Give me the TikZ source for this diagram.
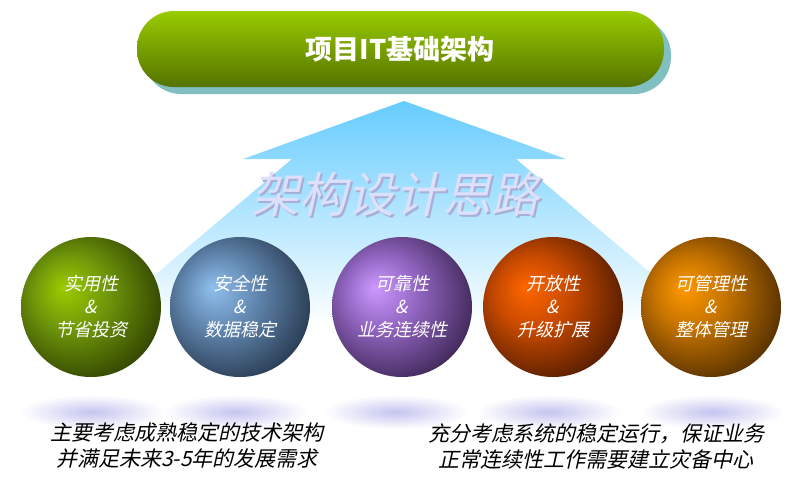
\documentclass[tikz,border=0pt]{standalone}
\usepackage{fontspec}
\newfontfamily\cjk{Noto Sans CJK SC}
\newfontfamily\cjkit[FakeSlant=0.22]{Noto Sans CJK SC}
\definecolor{pilltop}{HTML}{99CC00}
\definecolor{pillmid}{HTML}{88B800}
\definecolor{pillbot}{HTML}{557200}
\definecolor{pillshadow}{HTML}{80C0C0}
\definecolor{arrowtop}{HTML}{66CCFF}
\definecolor{arrowmid}{HTML}{CFEEFF}
\definecolor{arrowtx}{HTML}{DCE0FA}
\definecolor{arrowsh}{HTML}{A8AED8}
\definecolor{lav}{HTML}{C4C4F0}
\definecolor{gl}{HTML}{9CCC00}\definecolor{gm}{HTML}{70980A}\definecolor{gd}{HTML}{263400}
\definecolor{bl}{HTML}{90C0EE}\definecolor{bm}{HTML}{6288B0}\definecolor{bd}{HTML}{1E2C40}
\definecolor{pl}{HTML}{CC99FF}\definecolor{pm}{HTML}{9266C2}\definecolor{pd}{HTML}{301C44}
\definecolor{ol}{HTML}{FF6600}\definecolor{om}{HTML}{C84A00}\definecolor{od}{HTML}{401400}
\definecolor{al}{HTML}{FF9900}\definecolor{am}{HTML}{C47200}\definecolor{ad}{HTML}{402400}
\pgfdeclareradialshading{sgreen}{\pgfpoint{-10bp}{7bp}}{color(0bp)=(gl); color(13bp)=(gm); color(34bp)=(gd); color(50bp)=(gd)}
\pgfdeclareradialshading{sblue}{\pgfpoint{-10bp}{7bp}}{color(0bp)=(bl); color(13bp)=(bm); color(34bp)=(bd); color(50bp)=(bd)}
\pgfdeclareradialshading{spurple}{\pgfpoint{-10bp}{7bp}}{color(0bp)=(pl); color(13bp)=(pm); color(34bp)=(pd); color(50bp)=(pd)}
\pgfdeclareradialshading{sorange}{\pgfpoint{-10bp}{7bp}}{color(0bp)=(ol); color(13bp)=(om); color(34bp)=(od); color(50bp)=(od)}
\pgfdeclareradialshading{samber}{\pgfpoint{-10bp}{7bp}}{color(0bp)=(al); color(13bp)=(am); color(34bp)=(ad); color(50bp)=(ad)}
\begin{document}
\begin{tikzpicture}[x=1pt,y=-1pt,
  sphere/.style={circle, minimum size=140pt, inner sep=0pt, shade, align=center,
    text=white, font=\fontsize{18}{23}\selectfont\cjkit},
  glow/.style={inner color=lav, outer color=white},
  note/.style={align=center, text=black, font=\fontsize{21}{26}\selectfont\cjkit}]
\useasboundingbox (0,0) rectangle (800,496);
\fill[white] (0,0) rectangle (800,496);
% arrow
\shade[top color=arrowtop, middle color=arrowmid, bottom color=white]
  (404,101) -- (566,159) -- (516,159) -- (712,325) -- (96,325) -- (292,159) -- (243,159) -- cycle;
\node[font=\fontsize{48}{48}\selectfont\cjkit, text=arrowsh] (thinksh) at (397,196) {架构设计思路};
\node[font=\fontsize{48}{48}\selectfont\cjkit, text=arrowtx] (think) at (395,194) {架构设计思路};
% glows
\shade[glow] (92,412) ellipse [x radius=72, y radius=17];
\shade[glow] (236,412) ellipse [x radius=72, y radius=17];
\shade[glow] (396,412) ellipse [x radius=72, y radius=17];
\shade[glow] (549,412) ellipse [x radius=72, y radius=17];
\shade[glow] (712,412) ellipse [x radius=72, y radius=17];
% pill
\fill[pillshadow, rounded corners=37pt] (144,18) rectangle (671,94);
\shade[top color=pilltop, middle color=pillmid, bottom color=pillbot, rounded corners=37pt] (137,11) rectangle (664,87);
\node[font=\fontsize{27}{27}\selectfont\cjk\bfseries, text=white] (title) at (400,49) {项目IT基础架构};
% spheres
\node[sphere, shading=sgreen] (s1) at (91,307) {实用性\\\&\\节省投资};
\node[sphere, shading=sblue] (s2) at (240,307) {安全性\\\&\\数据稳定};
\node[sphere, shading=spurple] (s3) at (402,307) {可靠性\\\&\\业务连续性};
\node[sphere, shading=sorange] (s4) at (553,307) {开放性\\\&\\升级扩展};
\node[sphere, shading=samber] (s5) at (711,307) {可管理性\\\&\\整体管理};
% notes
\node[note] (n1) at (187,446) {主要考虑成熟稳定的技术架构\\并满足未来3-5年的发展需求};
\node[note] (n2) at (596,446) {充分考虑系统的稳定运行，保证业务\\正常连续性工作需要建立灾备中心};
\end{tikzpicture}
\end{document}
